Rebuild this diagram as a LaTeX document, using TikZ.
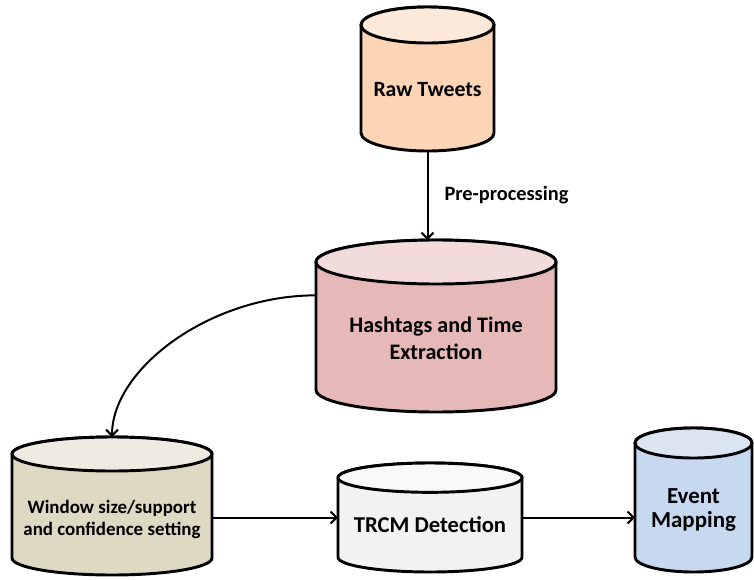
\documentclass[tikz,border=0pt]{standalone}
\usepackage{fontspec}
\setmainfont{Carlito}
\usetikzlibrary{arrows.meta,calc}

\definecolor{rawbody}{HTML}{FBD5B5}
\definecolor{rawtop}{HTML}{FDE9D9}
\definecolor{hashbody}{HTML}{E6B9B8}
\definecolor{hashtop}{HTML}{F2DCDB}
\definecolor{winbody}{HTML}{DDD9C3}
\definecolor{wintop}{HTML}{EEECE1}
\definecolor{trcmbody}{HTML}{F2F2F2}
\definecolor{trcmtop}{HTML}{F8F8F8}
\definecolor{evtbody}{HTML}{C6D9F1}
\definecolor{evttop}{HTML}{DBE5F1}

\tikzset{
  drumbox/.style={inner sep=0pt, outer sep=0pt},
  drumline/.style={draw=black, line width=2.2pt, line join=round},
  drumtext/.style 2 args={font=\bfseries\fontsize{#1}{#2}\selectfont, align=center, inner sep=0pt},
  flow/.style={draw=black, line width=1.5pt, -{Straight Barb[length=4.5pt,width=9pt]}}
}

% cylinder round a node: name, ellipse y radius, body colour, top colour
\newcommand\drum[4]{%
  \draw[drumline, fill=#3] let \p1=(#1.north west), \p2=(#1.south east), \n1={(\x2-\x1)/2} in
    (\x1,\y1-#2) -- (\x1,\y2+#2)
    arc[start angle=180, end angle=360, x radius=\n1, y radius=#2]
    -- (\x2,\y1-#2)
    arc[start angle=0, end angle=180, x radius=\n1, y radius=#2] -- cycle;
  \draw[drumline, fill=#4] let \p1=(#1.north west), \p2=(#1.north east), \n1={(\x2-\x1)/2} in
    ($(#1.north)+(0,-#2)$) ellipse [x radius=\n1, y radius=#2];
}

\begin{document}
\begin{tikzpicture}[x=0.75pt, y=0.75pt]
    \useasboundingbox (0,0) rectangle (754,-579);

    % Stores
    \node[drumbox, minimum width=99.75pt, minimum height=108pt] (raw) at (427.5,-79) {};
    \node[drumbox, minimum width=180pt, minimum height=129pt] (hash) at (436,-326) {};
    \node[drumbox, minimum width=150pt, minimum height=103.5pt] (win) at (112,-506) {};
    \node[drumbox, minimum width=138pt, minimum height=81.75pt] (trcm) at (430,-517.5) {};
    \node[drumbox, minimum width=87.75pt, minimum height=108pt] (evt) at (693.5,-500) {};

    \drum{raw}{13.5pt}{rawbody}{rawtop}
    \drum{hash}{16.5pt}{hashbody}{hashtop}
    \drum{win}{12.75pt}{winbody}{wintop}
    \drum{trcm}{11pt}{trcmbody}{trcmtop}
    \drum{evt}{11.25pt}{evtbody}{evttop}

    % Labels
    \node[drumtext={16.3}{19}] (rawlbl) at ([yshift=-8.25pt]raw.center) {Raw Tweets};
    \node[drumtext={16.6}{20.25}] (hashlbl) at ([yshift=-9pt]hash.center) {Hashtags and Time\\Extraction};
    \node[drumtext={14.2}{16.5}] (winlbl) at ([yshift=-10pt]win.center) {Window size/support\\and confidence setting};
    \node[drumtext={17}{20}] (trcmlbl) at ([yshift=-5.25pt]trcm.center) {TRCM Detection};
    \node[drumtext={17.2}{18}] (evtlbl) at ([yshift=-7.5pt]evt.center) {Event\\Mapping};

    % Flow
    \draw[flow] (raw.south) -- (raw.south |- hash.north)
        node[midway, right=12pt, drumtext={15.3}{18}] (pre) {Pre-processing};
    \draw[flow] ([yshift=23pt]hash.west) to[out=180, in=90, out looseness=1.1, in looseness=0.7] (win.north);
    \draw[flow] (win.east |- trcm.center) -- (trcm.west);
    \draw[flow] (trcm.east) -- (evt.west |- trcm.east);
\end{tikzpicture}
\end{document}
